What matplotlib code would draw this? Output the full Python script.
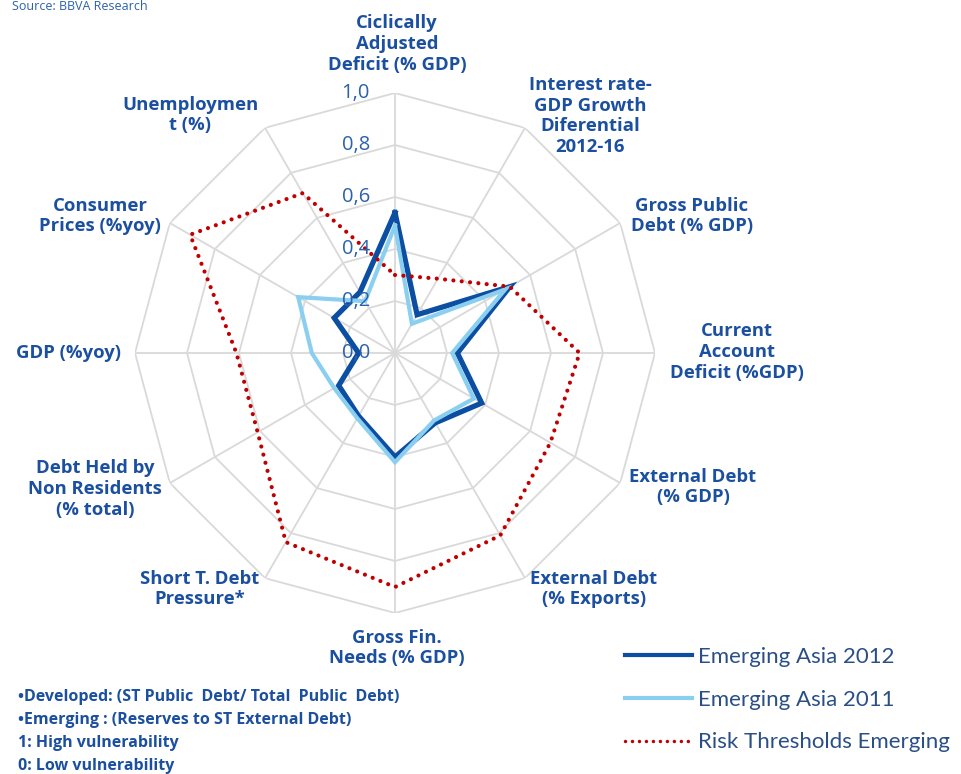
import numpy as np
import matplotlib.pyplot as plt
from matplotlib.lines import Line2D

# categories, clockwise from the top
categories = ['Ciclically\nAdjusted\nDeficit (% GDP)',
              'Interest rate-\nGDP Growth\nDiferential\n2012-16',
              'Gross Public\nDebt (% GDP)',
              'Current\nAccount\nDeficit (%GDP)',
              'External Debt\n(% GDP)',
              'External Debt\n(% Exports)',
              'Gross Fin.\nNeeds (% GDP)',
              'Short T. Debt\nPressure*',
              'Debt Held by\nNon Residents\n(% total)',
              'GDP (%yoy)',
              'Consumer\nPrices (%yoy)',
              'Unemploymen\nt (%)']

asia_2012 = [0.54, 0.17, 0.51, 0.24, 0.385, 0.31, 0.40, 0.28, 0.25, 0.14, 0.27, 0.27]
asia_2011 = [0.49, 0.13, 0.49, 0.22, 0.35, 0.30, 0.42, 0.29, 0.27, 0.32, 0.43, 0.23]
risk_emerging = [0.30, 0.33, 0.51, 0.71, 0.69, 0.81, 0.90, 0.84, 0.61, 0.61, 0.91, 0.71]

ring_levels = [0.2, 0.4, 0.6, 0.8, 1.0]
tick_labels = ['0,0', '0,2', '0,4', '0,6', '0,8', '1,0']

footnotes = ['•Developed: (ST Public  Debt/ Total  Public  Debt)',
             '•Emerging : (Reserves to ST External Debt)',
             '1: High vulnerability',
             '0: Low vulnerability']

# label centres in pixels (x, y from top)
label_pos = [(397, 44), (590, 116), (692, 216), (737, 352), (693, 487), (594, 589),
             (397, 648), (200, 589), (95, 489), (68, 353), (100, 216), (190, 115)]

W, H = 962, 774
LABEL = '#1b4f9f'
DARK = '#0b4ea2'
LIGHT = '#8acff0'
RED = '#c00000'
GRID = '#d9d9d9'

plt.rcParams['font.family'] = ['Open Sans', 'DejaVu Sans']

fig = plt.figure(figsize=(W / 100, H / 100), dpi=100)
cx, cy, R = 395, 353, 260
ax = fig.add_axes([(cx - R) / W, (H - cy - R) / H, 2 * R / W, 2 * R / H], projection='polar')
ax.set_theta_offset(np.pi / 2)
ax.set_theta_direction(-1)
ax.set_ylim(0, 1)
ax.grid(False)
ax.spines['polar'].set_visible(False)
ax.set_xticks([])
ax.set_yticks([])
ax.patch.set_alpha(0)

n = len(categories)
angles = np.linspace(0, 2 * np.pi, n, endpoint=False)
closed = np.append(angles, angles[0])

def close(v):
    return np.append(v, v[0])

# polygon grid
for lvl in ring_levels:
    ax.plot(closed, [lvl] * (n + 1), color=GRID, lw=1.3, zorder=1)
for a in angles:
    ax.plot([a, a], [0, 1], color=GRID, lw=1.3, zorder=1)

# radial tick labels
for i, t in enumerate(tick_labels):
    fig.text((cx - 25) / W, 1 - (cy - i * 0.2 * R) / H, t, ha='right', va='center',
             fontsize=14.5, color='#2b61ad', zorder=2)

ax.plot(closed, close(asia_2012), color=DARK, lw=3.8, zorder=3, solid_joinstyle='miter')
ax.plot(closed, close(asia_2011), color=LIGHT, lw=3.0, zorder=4, solid_joinstyle='miter')
ax.plot(closed, close(risk_emerging), color=RED, lw=3.0, linestyle=(0, (0.01, 2.0)),
        dash_capstyle='round', zorder=5)

for lab, (x, y) in zip(categories, label_pos):
    fig.text(x / W, 1 - y / H, lab, ha='center', va='center', fontsize=13.3,
             fontweight='bold', color=LABEL, linespacing=1.2)

for i, f in enumerate(footnotes):
    fig.text(18 / W, 1 - (697 + i * 23) / H, f, ha='left', va='center', fontsize=11.5,
             fontweight='bold', color=LABEL)

fig.text(12 / W, 1 - 6 / H, 'Source: BBVA Research', ha='left', va='center',
         fontsize=9, color='#2b61ad')

handles = [Line2D([], [], color=DARK, lw=3),
           Line2D([], [], color=LIGHT, lw=3),
           Line2D([], [], color=RED, lw=2.5, linestyle=(0, (0.01, 2.0)), dash_capstyle='round')]
leg = fig.legend(handles, ['Emerging Asia 2012', 'Emerging Asia 2011', 'Risk Thresholds Emerging'],
                 loc='upper left', bbox_to_anchor=(614 / W, 1 - 636 / H), frameon=False,
                 prop={'family': 'Lato', 'size': 16}, handlelength=3.0, handletextpad=0.3,
                 labelspacing=1.02, borderpad=0)
for t in leg.get_texts():
    t.set_color('#2a4f86')

fig.savefig('out.png', dpi=100)
